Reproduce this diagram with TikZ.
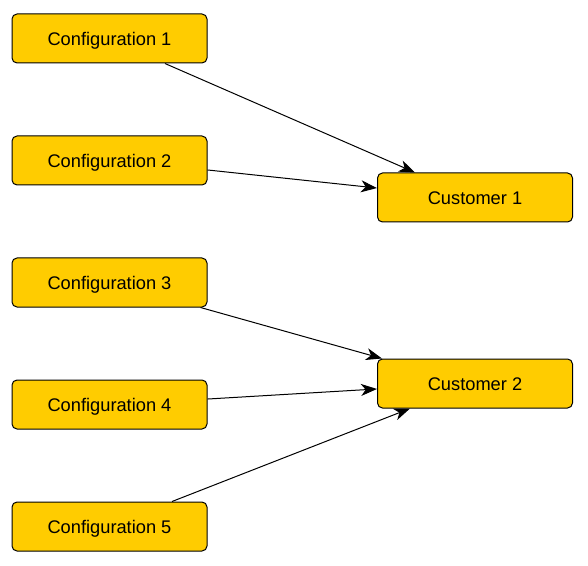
\documentclass[tikz,border=0pt]{standalone}
\usepackage{fontspec}
\setmainfont{Liberation Sans}
\usetikzlibrary{arrows.meta,positioning}
\definecolor{boxyellow}{RGB}{255,204,0}
\tikzset{>={Stealth[length=12pt,width=9pt,inset=3.5pt]},
         cfgbox/.style={draw, fill=boxyellow, rounded corners=3.75pt,
           line width=0.75pt, minimum width=146.25pt, minimum height=36.75pt,
           text height=9.8pt, text depth=0pt,
           font=\fontsize{13.7}{16}\selectfont},
         link/.style={->, line width=0.75pt}}

\begin{document}
\begin{tikzpicture}[x=0.75pt, y=-0.75pt, node distance=54pt]
  \useasboundingbox (0,0) rectangle (588,566);
  \node[cfgbox] (c1) at (109.5,38.5) {Configuration 1};
  \node[cfgbox, below=of c1] (c2) {Configuration 2};
  \node[cfgbox, below=of c2] (c3) {Configuration 3};
  \node[cfgbox, below=of c3] (c4) {Configuration 4};
  \node[cfgbox, below=of c4] (c5) {Configuration 5};
  \node[cfgbox] (cu1) at (475,197.5) {Customer 1};
  \node[cfgbox] (cu2) at (475,383.5) {Customer 2};
  % links to the customers
  \draw[link] ([xshift=41.6pt]c1.south) -- ([xshift=-45pt]cu1.north);
  \draw[link] ([yshift=-7.1pt]c2.east) -- ([yshift=7.1pt]cu1.west);
  \draw[link] ([xshift=-5.25pt]c3.south east) -- ([xshift=3.75pt]cu2.north west);
  \draw[link] ([yshift=4.1pt]c4.east) -- ([yshift=-4.1pt]cu2.west);
  \draw[link] ([xshift=46.9pt]c5.north) -- ([xshift=-48.75pt]cu2.south);
\end{tikzpicture}
\end{document}
